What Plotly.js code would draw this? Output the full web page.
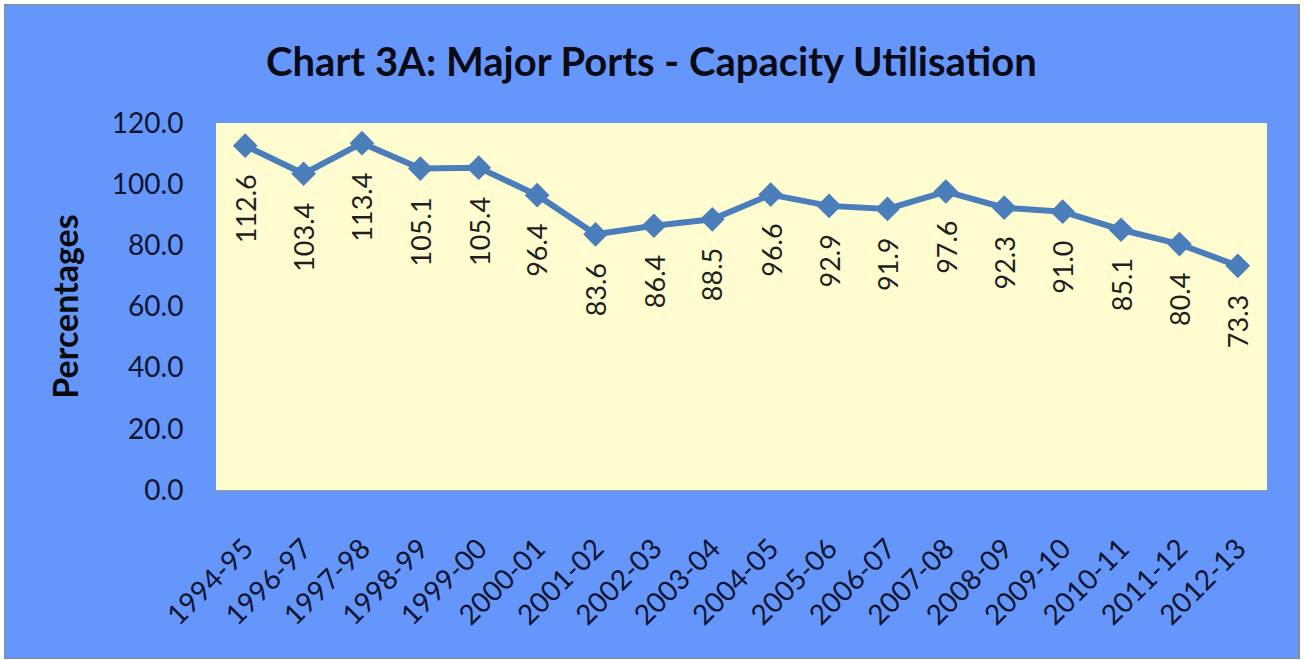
<!DOCTYPE html>
<html>
<head>
<meta charset="utf-8">
<script src="https://cdn.plot.ly/plotly-3.0.1.min.js"></script>
<style>
  html, body { margin: 0; padding: 0; background: #ffffff; width: 1304px; height: 660px; overflow: hidden; }
  #frame { position: absolute; left: 4px; top: 4px; width: 1293px; height: 653px; border: 1px solid #8a8a8a; border-right-width: 2px; }
  #chart { position: absolute; left: 0; top: 0; width: 1293px; height: 653px; }
</style>
</head>
<body>
<div id="frame"><div id="chart"></div></div>
<script>
const years = ["1994-95","1996-97","1997-98","1998-99","1999-00","2000-01","2001-02","2002-03","2003-04","2004-05","2005-06","2006-07","2007-08","2008-09","2009-10","2010-11","2011-12","2012-13"];
const utilisation = [112.6,103.4,113.4,105.1,105.4,96.4,83.6,86.4,88.5,96.6,92.9,91.9,97.6,92.3,91.0,85.1,80.4,73.3];
const yTicks = [0,20,40,60,80,100,120];
const yTickText = yTicks.map(v => v.toFixed(1));

const FONT = "Lato, 'Open Sans', sans-serif";
const BLUE_BG = "#6596fb";
const PLOT_BG = "#fffdcf";
const LINE = "#4a7ebb";

const trace = {
  type: "scatter",
  mode: "lines+markers",
  x: years,
  y: utilisation,
  line: { color: LINE, width: 6 },
  marker: { symbol: "diamond", size: 19, color: LINE },
  hoverinfo: "x+y"
};

const annotations = utilisation.map((v, i) => ({
  x: years[i], y: v, xref: "x", yref: "y",
  text: v.toFixed(1),
  textangle: -90,
  showarrow: false,
  xanchor: "center", yanchor: "top",
  yshift: -27,
  font: { family: FONT, size: 27, color: "#1f1f1f" }
}));

const layout = {
  width: 1293, height: 653,
  paper_bgcolor: BLUE_BG,
  plot_bgcolor: PLOT_BG,
  margin: { l: 211, r: 31, t: 118, b: 168 },
  showlegend: false,
  title: {
    text: "<b>Chart 3A: Major Ports - Capacity Utilisation</b>",
    x: 0.5, xanchor: "center",
    y: 1 - 57/653, yanchor: "middle",
    font: { family: FONT, size: 40, color: "#0a0a14" }
  },
  xaxis: {
    type: "category",
    range: [-0.5, years.length - 0.5],
    tickangle: -45,
    ticks: "outside", ticklen: 30, tickcolor: "rgba(0,0,0,0)",
    showgrid: false, zeroline: false,
    showline: true, linecolor: "#9a9a9a", linewidth: 1,
    tickfont: { family: FONT, size: 28, color: "#0d1430" },
    fixedrange: true
  },
  yaxis: {
    range: [0, 120],
    tickvals: yTicks, ticktext: yTickText,
    ticks: "outside", ticklen: 26, tickcolor: "rgba(0,0,0,0)",
    showgrid: false, zeroline: false, showline: false,
    tickfont: { family: FONT, size: 28, color: "#0d1430" },
    title: { text: "<b>Percentages</b>", standoff: 22, font: { family: FONT, size: 34, color: "#0a0a0a" } },
    fixedrange: true
  },
  annotations: annotations
};

Plotly.newPlot("chart", [trace], layout, { displayModeBar: false, staticPlot: true });
</script>
</body>
</html>
